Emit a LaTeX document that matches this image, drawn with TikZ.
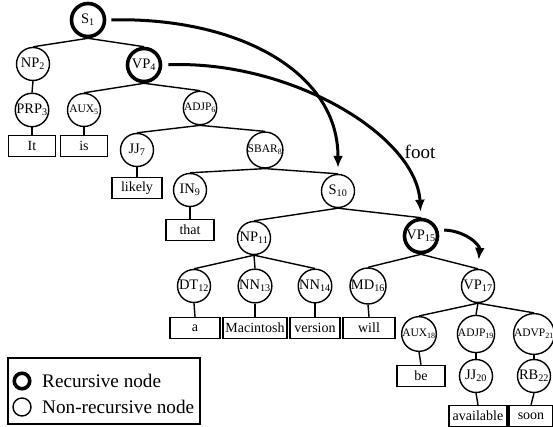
\documentclass[tikz,border=0pt]{standalone}
\usepackage{fontspec}
\setmainfont{Liberation Serif}
\usetikzlibrary{arrows.meta}

\begin{document}
\begin{tikzpicture}[x=1pt,y=-1pt,
  tn/.style={circle,draw,line width=1.4pt,minimum size=33pt,inner sep=0pt,
             font=\fontsize{14.5}{15}\selectfont},
  tns/.style={tn,font=\fontsize{11.5}{12}\selectfont},
  rec/.style={line width=3.6pt,minimum size=33pt},
  leaf/.style={draw,line width=1.4pt,minimum height=21pt,inner sep=1pt,
               font=\fontsize{14}{15}\selectfont},
  edge/.style={line width=1.4pt},
  arc/.style={line width=3pt,-{Latex[length=12pt,width=10pt]}},
  legtext/.style={anchor=west,inner sep=0pt,font=\fontsize{19.2}{20}\selectfont}]
\useasboundingbox (0,0) rectangle (553,427);

% internal nodes
\node[tn,rec]  (S1)    at (88,20)   {S\textsubscript{1}};
\node[tn]      (NP2)   at (33,64)   {NP\textsubscript{2}};
\node[tn,rec]  (VP4)   at (144,65)  {VP\textsubscript{4}};
\node[tn]      (PRP3)  at (32,110)  {PRP\textsubscript{3}};
\node[tns]     (AUX5)  at (84,110)  {AUX\textsubscript{5}};
\node[tns]     (ADJP6) at (200,108) {ADJP\textsubscript{6}};
\node[tn]      (JJ7)   at (137,150) {JJ\textsubscript{7}};
\node[tns]     (SBAR8) at (265,150) {SBAR\textsubscript{8}};
\node[tn]      (IN9)   at (190,190) {IN\textsubscript{9}};
\node[tn]      (S10)   at (338,191) {S\textsubscript{10}};
\node[tn]      (NP11)  at (254,238) {NP\textsubscript{11}};
\node[tn,rec]  (VP15)  at (421,236) {VP\textsubscript{15}};
\node[tn]      (DT12)  at (194,286) {DT\textsubscript{12}};
\node[tn]      (NN13)  at (255,286) {NN\textsubscript{13}};
\node[tn]      (NN14)  at (315,286) {NN\textsubscript{14}};
\node[tn]      (MD16)  at (368,286) {MD\textsubscript{16}};
\node[tn]      (VP17)  at (478,286) {VP\textsubscript{17}};
\node[tns]     (AUX18) at (419,334) {AUX\textsubscript{18}};
\node[tns]     (ADJP19) at (476,334) {ADJP\textsubscript{19}};
\node[tns]     (ADVP21) at (534,334) {ADVP\textsubscript{21}};
\node[tn]      (JJ20)  at (476,376) {JJ\textsubscript{20}};
\node[tn]      (RB22)  at (534,376) {RB\textsubscript{22}};

% words
\node[leaf,minimum width=47pt] (wIt)   at (32,146)  {It};
\node[leaf,minimum width=47pt] (wis)   at (84,146)  {is};
\node[leaf,minimum width=50pt] (wlik)  at (137,188) {likely};
\node[leaf,minimum width=48pt] (wthat) at (190,230) {that};
\node[leaf,minimum width=50pt] (wa)    at (195,328) {a};
\node[leaf,minimum width=64pt] (wmac)  at (255,328) {Macintosh};
\node[leaf,minimum width=50pt] (wver)  at (315,328) {version};
\node[leaf,minimum width=52pt] (wwill) at (369,328) {will};
\node[leaf,minimum width=48pt] (wbe)   at (421,376) {be};
\node[leaf,minimum width=58pt] (wavl)  at (478,416) {available};
\node[leaf,minimum width=44pt] (wsoon) at (531,416) {soon};

% tree edges
\foreach \p/\c in {S1/NP2,S1/VP4,NP2/PRP3,VP4/AUX5,VP4/ADJP6,PRP3/wIt,AUX5/wis,
                   ADJP6/JJ7,ADJP6/SBAR8,JJ7/wlik,SBAR8/IN9,SBAR8/S10,IN9/wthat,
                   S10/NP11,S10/VP15,NP11/DT12,NP11/NN13,NP11/NN14,
                   DT12/wa,NN13/wmac,NN14/wver,VP15/MD16,VP15/VP17,MD16/wwill,
                   VP17/AUX18,VP17/ADJP19,VP17/ADVP21,AUX18/wbe,
                   ADJP19/JJ20,ADVP21/RB22,JJ20/wavl,RB22/wsoon}
  \draw[edge] (\p.south) -- (\c.north);

% adjunction arrows
\draw[arc,shorten <=5pt,shorten >=6pt] (S1.east) .. controls (235,17) and (338,70) .. (S10.north);
\draw[arc,shorten <=6pt,shorten >=6pt] (VP4.east) .. controls (290,60) and (416,135) .. (VP15.north);
\draw[arc,shorten <=6pt,shorten >=9pt] (VP15.20) .. controls (466,231) and (480,245) .. (VP17.north);
\node[font=\fontsize{19}{20}\selectfont] (foot) at (420,152) {foot};

% legend
\node[draw,line width=1.4pt,minimum width=192pt,minimum height=66pt,inner sep=0pt] (legbox) at (104,391) {};
\node[circle,draw,line width=3.6pt,minimum size=15.5pt,inner sep=0pt] (legrec) at (22,381) {};
\node[circle,draw,line width=1.4pt,minimum size=18pt,inner sep=0pt] (legnon) at (22,407) {};
\node[legtext] (legrect) at (42,381) {Recursive node};
\node[legtext] (legnont) at (42,407) {Non-recursive node};
\end{tikzpicture}
\end{document}
